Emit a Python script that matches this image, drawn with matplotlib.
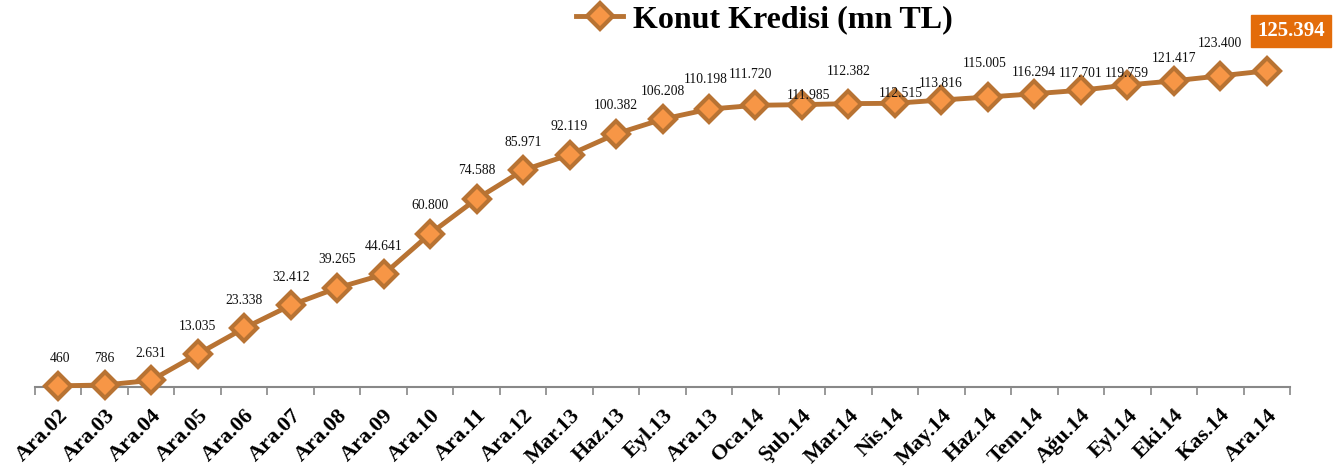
import matplotlib.pyplot as plt
import numpy as np

plt.rcParams['font.family'] = ['Liberation Serif', 'DejaVu Serif']

months = ["Ara.02", "Ara.03", "Ara.04", "Ara.05", "Ara.06", "Ara.07", "Ara.08",
          "Ara.09", "Ara.10", "Ara.11", "Ara.12", "Mar.13", "Haz.13", "Eyl.13",
          "Ara.13", "Oca.14", "Şub.14", "Mar.14", "Nis.14", "May.14", "Haz.14",
          "Tem.14", "Ağu.14", "Eyl.14", "Eki.14", "Kas.14", "Ara.14"]
kredi = [460, 786, 2631, 13035, 23338, 32412, 39265, 44641, 60800, 74588,
         85971, 92119, 100382, 106208, 110198, 111720, 111985, 112382, 112515,
         113816, 115005, 116294, 117701, 119759, 121417, 123400, 125394]

# label offsets (pixels) relative to each point
lbl_dx = [2, 0, 0, 0, 0, 0, 0, 0, 0, 0, 0, 0, 0, 0, -3, -5, 7, 0, 6, -1, -3, 0, 0, 0, 0, 0, 0]
lbl_dy = [27, 27, 27, 28, 28, 28, 28, 28, 28, 28, 28, 28, 28, 28, 30, 31, 9, 32, 10, 17, 34, 21, 17, 12, 22, 32, 0]

line_col = "#B87333"
face_col = "#F79646"

fig = plt.figure(figsize=(13.43, 4.74), dpi=100)
ax = fig.add_axes([35 / 1343, 1 - 387 / 474, (1290 - 35) / 1343, (387 - 34) / 474])

x = np.arange(len(months))
ax.plot(x, kredi, color=line_col, lw=3.5, marker="D", markersize=13,
        markerfacecolor=face_col, markeredgecolor=line_col, markeredgewidth=3,
        label="Konut Kredisi (mn TL)", zorder=3, clip_on=False)

for i, v in enumerate(kredi[:-1]):
    txt = f"{v:,}".replace(",", ".")
    ax.annotate(txt, (x[i], v), xytext=(lbl_dx[i], lbl_dy[i]), textcoords="offset pixels",
                ha="center", va="center", fontsize=9.8, color="#111111")

last = f"{kredi[-1]:,}".replace(",", ".")
ax.annotate(last, (x[-1], kredi[-1]), xytext=(24, 40), textcoords="offset pixels",
            ha="center", va="center", fontsize=15, fontweight="bold", color="white",
            bbox=dict(boxstyle="square,pad=0.3", fc="#E36C0A", ec="#E36C0A"))

ax.set_xlim(-0.5, len(months) - 0.5)
ax.set_ylim(0, 140000)
ax.set_xticks(x)
ax.set_xticklabels(months, rotation=45, ha="right", rotation_mode="anchor",
                   fontsize=16, fontweight="bold")
ax.set_xticks(np.arange(-0.5, len(months)), minor=True)
ax.tick_params(axis="x", which="major", length=0, pad=13)
ax.tick_params(axis="x", which="minor", length=6, color="#888888", width=1.2)
ax.set_yticks([])
for s in ["top", "left", "right"]:
    ax.spines[s].set_visible(False)
ax.spines["bottom"].set_color("#888888")
ax.spines["bottom"].set_linewidth(1.5)

leg = fig.legend(loc="upper center", bbox_to_anchor=(0.569, 1.05), frameon=False,
                 prop={"weight": "bold", "size": 23}, handlelength=1.5, handletextpad=0.3)

fig.savefig("out.png", dpi=100)
